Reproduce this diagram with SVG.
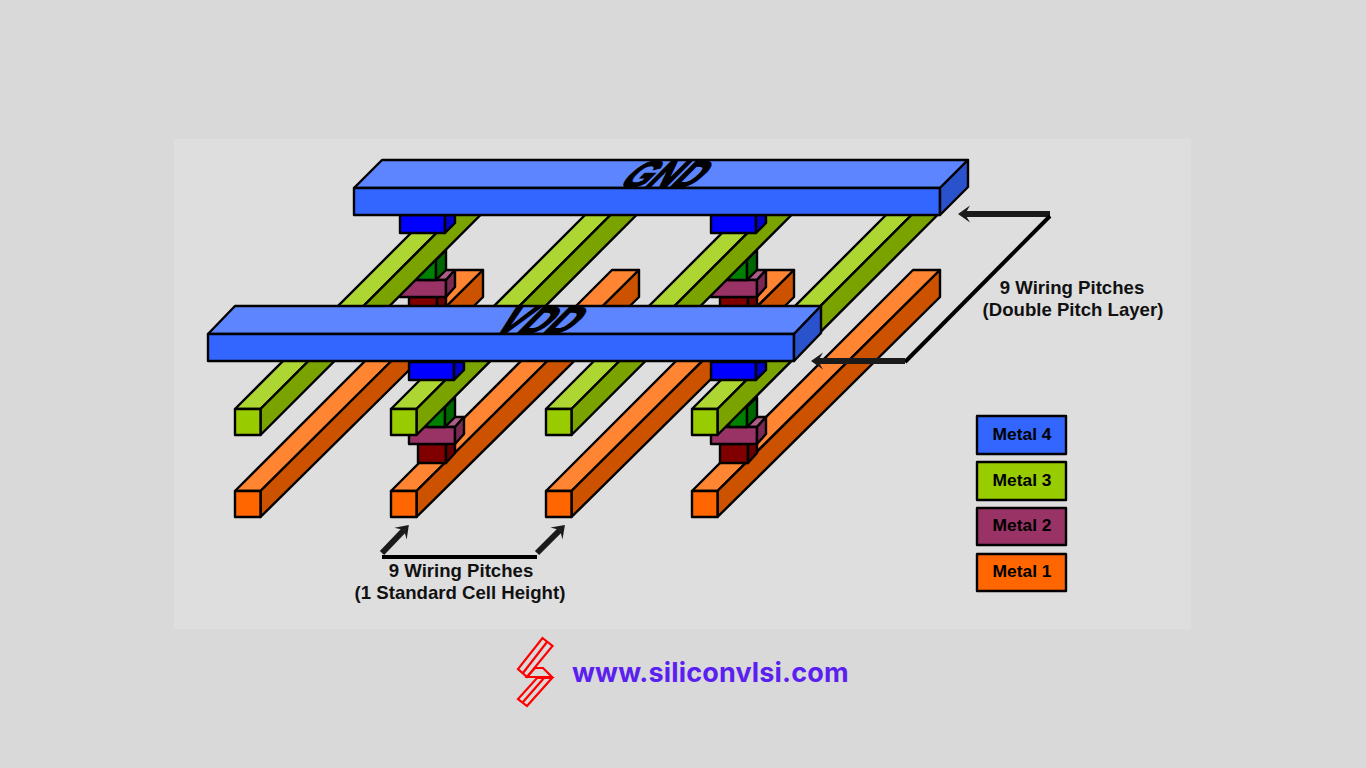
<svg xmlns="http://www.w3.org/2000/svg" width="1366" height="768" viewBox="0 0 1366 768">
<style>
.o{stroke:#000;stroke-width:2.4;stroke-linejoin:round}
.m4f{fill:#3366ff}.m4t{fill:#5c85ff}.m4s{fill:#2952cc}
.m3f{fill:#99cc00}.m3t{fill:#add633}.m3s{fill:#7aa300}
.m2f{fill:#993366}.m2t{fill:#ad5c85}.m2s{fill:#7a2952}
.m1f{fill:#ff6600}.m1t{fill:#ff8533}.m1s{fill:#cc5200}
.bf{fill:#0000ff}.bs{fill:#0000cc}.gf{fill:#008000}.gs{fill:#006600}.rf{fill:#800000}.rs{fill:#660000}
text{font-family:"Liberation Sans",Arial,sans-serif;font-weight:700;fill:#000}
.c{text-anchor:middle;font-size:18.6px;fill:#111}
.lg{text-anchor:middle;font-size:17.4px}
.lab{font-size:28px;font-weight:700;stroke:#000;stroke-width:1.4}
.ln{fill:none;stroke:#000;stroke-width:4}
.ar{fill:none;stroke:#1a1a1a;stroke-width:6;marker-end:url(#h)}
</style>
<defs>
<marker id="h" markerUnits="userSpaceOnUse" markerWidth="20" markerHeight="20" refX="7" refY="10" orient="auto" viewBox="0 0 20 20">
<path d="M14,10L2,1.500L7,10L2,18.500Z" fill="#1a1a1a"/>
</marker>
<g id="rail3"><path class="o m3t" d="M0,0L225,-225H250.500L25.500,0Z"/><path class="o m3s" d="M25.500,0L250.500,-225V-199L25.500,26Z"/><rect class="o m3f" width="25.500" height="26"/></g>
<g id="rail1"><path class="o m1t" d="M0,0L221,-221H248L25.500,0Z"/><path class="o m1s" d="M25.500,0L248,-221V-194L25.500,26Z"/><rect class="o m1f" width="25.500" height="26"/></g>
<g id="low"><rect class="o rf" x="9" y="17" width="28" height="19"/><path class="o rs" d="M37,17L46,8V26L37,36Z"/><path class="o m2t" d="M0,0L10,-10H55L46,0Z"/><rect class="o m2f" width="46" height="17"/><path class="o m2s" d="M46,0L55,-10V7L46,17Z"/><path class="o gf" d="M18,-30H36V0H18Z"/><path class="o gs" d="M36,-20L46,-30V-10L36,0Z"/></g>
<g id="top"><rect class="o bf" width="45" height="18"/><path class="o bs" d="M45,0H55V8L45,18Z"/></g>
</defs>
<rect width="1366" height="768" fill="#d9d9d9"/>
<rect x="174" y="139" width="1017" height="490" fill="#dedede"/>
<g id="metal1-rails">
<use href="#rail1" x="235" y="491"/><use href="#rail1" x="391" y="491"/><use href="#rail1" x="546" y="491"/><use href="#rail1" x="692" y="491"/>
</g>
<g id="via-stack-back-left"><use href="#low" x="400" y="280"/></g>
<g id="via-stack-back-right"><use href="#low" x="711" y="280"/></g>
<g id="via-stack-front-left"><use href="#low" x="409" y="427"/></g>
<g id="via-stack-front-right"><use href="#low" x="711" y="427"/></g>
<g id="metal3-rails">
<use href="#rail3" x="235" y="409"/><use href="#rail3" x="391" y="409"/><use href="#rail3" x="546" y="409"/><use href="#rail3" x="692" y="409"/>
</g>
<g id="via34"><use href="#top" x="400" y="215"/><use href="#top" x="711" y="215"/><use href="#top" x="409" y="362"/><use href="#top" x="711" y="362"/></g>
<g id="gnd-bar">
<path class="o m4t" d="M354,188L382,160H968L940,188Z"/><rect class="o m4f" x="354" y="188" width="586" height="27"/><path class="o m4s" d="M940,188L968,160V187L940,215Z"/>
<text class="lab" transform="translate(617,187) skewX(-45) scale(1.22,1.32)">GND</text>
</g>
<g id="vdd-bar">
<path class="o m4t" d="M208,334L235,306H821L794,334Z"/><rect class="o m4f" x="208" y="334" width="586" height="27"/><path class="o m4s" d="M794,334L821,306V333L794,361Z"/>
<text class="lab" transform="translate(491,333) skewX(-45) scale(1.3,1.32)">VDD</text>
</g>
<g id="connectors">
<path class="ar" d="M1050,214H965"/>
<path class="ln" d="M1050,216L905,362"/>
<path class="ar" d="M905,361H818"/>
<path class="ln" d="M382,557H537"/>
<path class="ar" d="M382,553L404,530"/>
<path class="ar" d="M537,553L560,530"/>
</g>
<text class="c" x="1072" y="294">9 Wiring Pitches</text>
<text class="c" x="1073" y="316">(Double Pitch Layer)</text>
<text class="c" x="461" y="577">9 Wiring Pitches</text>
<text class="c" x="460" y="599">(1 Standard Cell Height)</text>
<g id="legend-metal4"><rect class="o m4f" x="977" y="416" width="89" height="38"/><text class="lg" x="1022" y="440">Metal 4</text></g>
<g id="legend-metal3"><rect class="o m3f" x="977" y="462" width="89" height="38"/><text class="lg" x="1022" y="486">Metal 3</text></g>
<g id="legend-metal2"><rect class="o m2f" x="977" y="508" width="89" height="37"/><text class="lg" x="1022" y="531">Metal 2</text></g>
<g id="legend-metal1"><rect class="o m1f" x="977" y="554" width="89" height="37"/><text class="lg" x="1022" y="577">Metal 1</text></g>
<g id="logo" fill="none" stroke="#ff0000" stroke-width="2.200">
<path d="M542.500,638L552.500,646L527,677L518,669Z"/><path d="M547,642L523,673"/>
<path d="M527,677L535,668H543L552,677Z"/>
<path d="M537,678H552L527,706L518,699Z"/><path d="M544,678L523,702"/>
</g>
<text id="site" x="572" y="682" style="font-family:Inter,sans-serif;font-size:27px;font-weight:700;letter-spacing:.15px;fill:#5b1ff0">www.siliconvlsi.com</text>
</svg>
